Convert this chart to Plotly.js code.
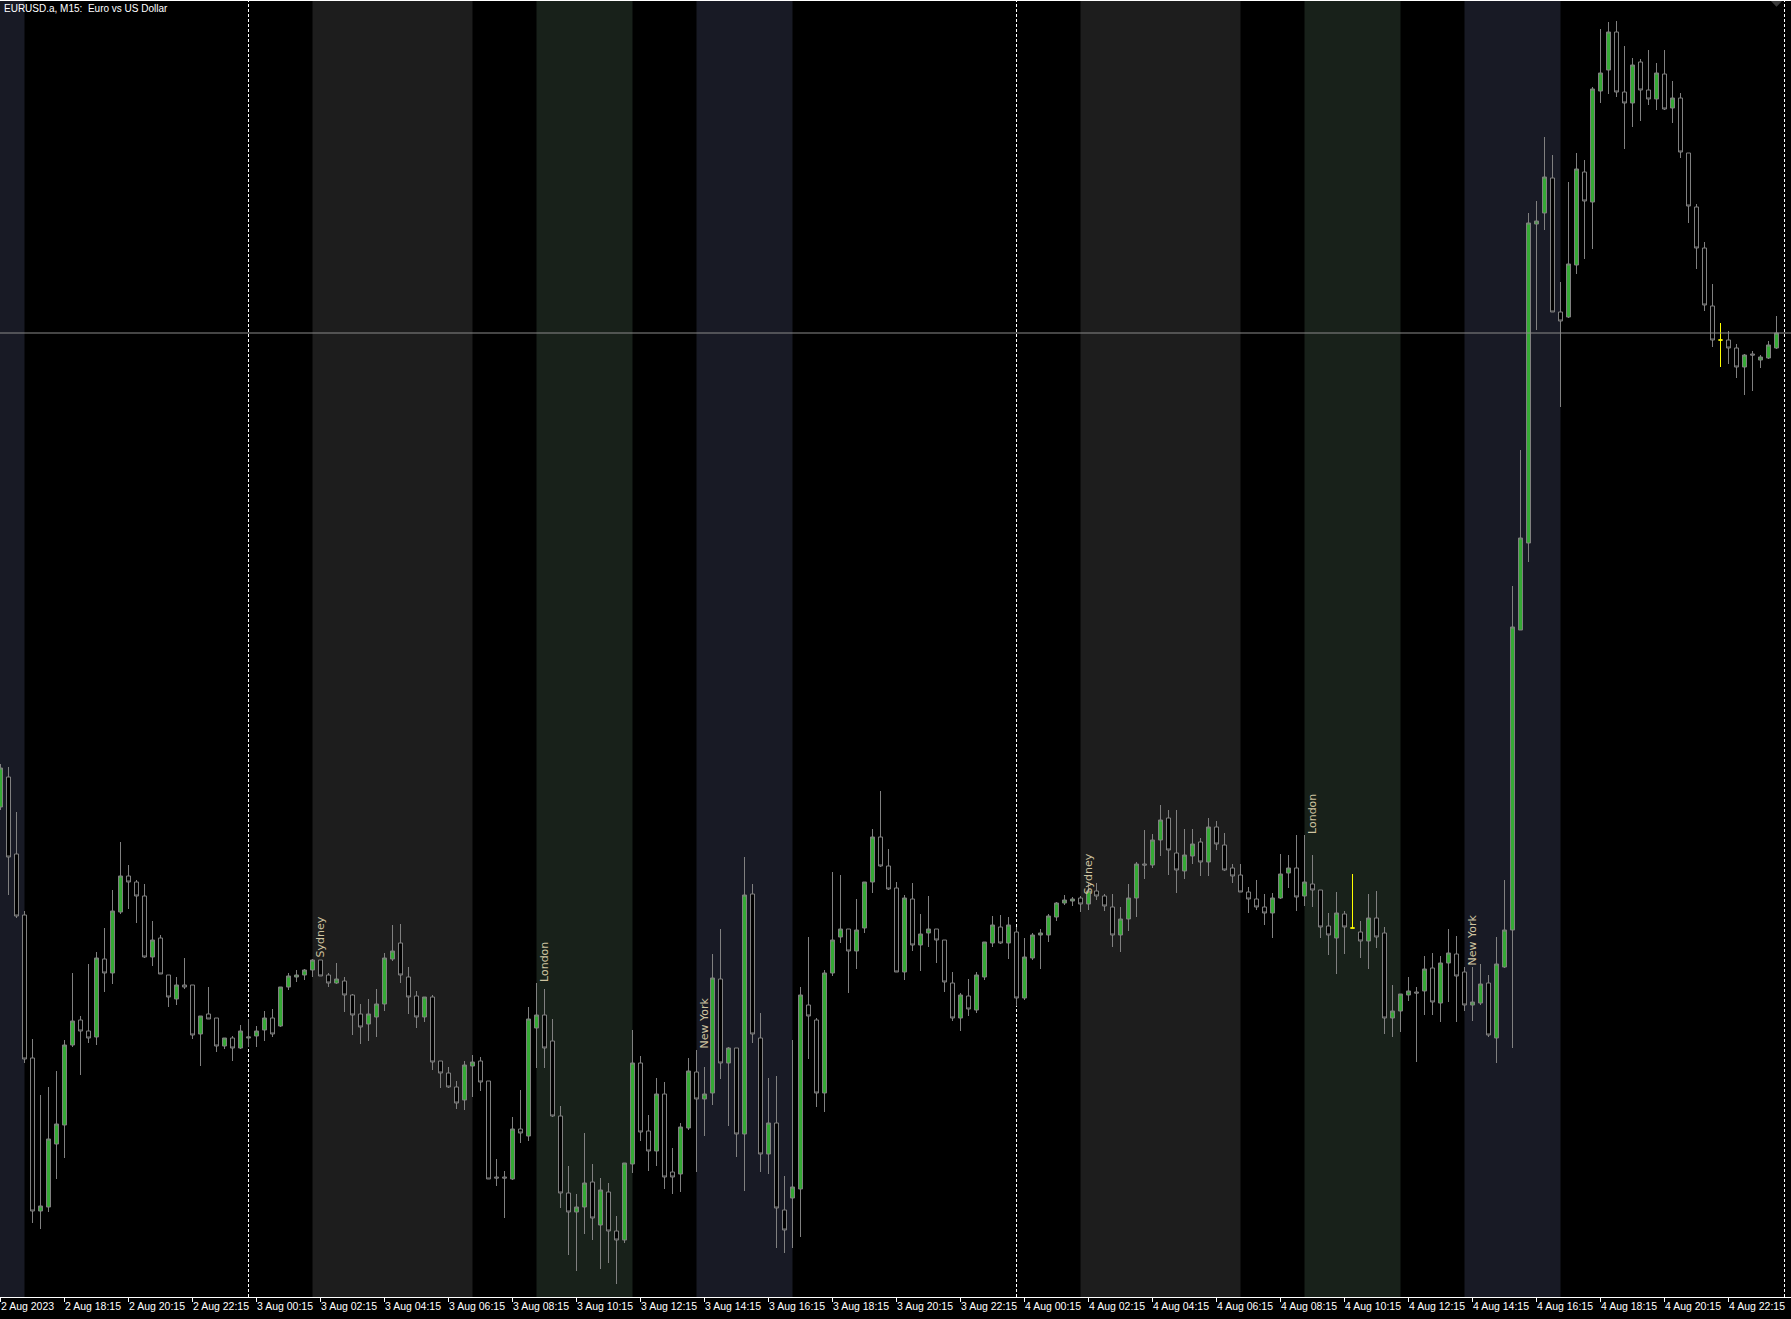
<!DOCTYPE html>
<html>
<head>
<meta charset="utf-8">
<script src="https://cdn.plot.ly/plotly-3.0.1.min.js"></script>
<style>
html,body{margin:0;padding:0;background:#000;}
#chart{width:1791px;height:1319px;}
</style>
</head>
<body>
<div id="chart"></div>
<script>
// EURUSD.a M15, bars from 2 Aug 2023 16:15 to 4 Aug 2023 23:45 (bar index 0..222)
const chartTitle = 'EURUSD.a, M15:\u00a0 Euro vs US Dollar';

const open = [
1.09606,1.09636,1.09559,1.09498,1.09355,1.09202,1.09206,1.09269,1.09288,1.09368,
1.09393,1.09382,1.09376,1.09454,1.09440,1.09501,1.09537,1.09531,1.09517,1.09456,
1.09475,1.09438,1.09414,1.09428,1.09428,1.09379,1.09399,1.09395,1.09367,1.09375,
1.09365,1.09375,1.09377,1.09383,1.09395,1.09387,1.09426,1.09436,1.09438,1.09443,
1.09453,1.09438,1.09430,1.09432,1.09418,1.09399,1.09389,1.09396,1.09409,1.09454,
1.09470,1.09436,1.09417,1.09396,1.09416,1.09352,1.09340,1.09326,1.09313,1.09347,
1.09352,1.09332,1.09236,1.09236,1.09234,1.09284,1.09277,1.09385,1.09398,1.09372,
1.09297,1.09220,1.09201,1.09206,1.09231,1.09188,1.09221,1.09182,1.09173,1.09249,
1.09350,1.09282,1.09262,1.09319,1.09241,1.09239,1.09285,1.09341,1.09314,1.09320,
1.09434,1.09350,1.09365,1.09279,1.09519,1.09375,1.09259,1.09290,1.09203,1.09215,
1.09224,1.09408,1.09393,1.09320,1.09440,1.09476,1.09484,1.09462,1.09485,1.09531,
1.09576,1.09547,1.09525,1.09441,1.09514,1.09468,1.09480,1.09484,1.09473,1.09430,
1.09395,1.09417,1.09403,1.09436,1.09470,1.09486,1.09470,1.09481,1.09415,1.09455,
1.09478,1.09478,1.09496,1.09510,1.09512,1.09515,1.09509,1.09522,1.09517,1.09506,
1.09478,1.09494,1.09515,1.09549,1.09548,1.09573,1.09595,1.09560,1.09542,1.09557,
1.09571,1.09551,1.09586,1.09568,1.09545,1.09538,1.09521,1.09514,1.09506,1.09500,
1.09515,1.09540,1.09545,1.09517,1.09529,1.09523,1.09487,1.09475,1.09499,1.09485,
1.09481,1.09472,1.09495,1.09480,1.09395,1.09402,1.09418,1.09421,1.09422,1.09445,
1.09410,1.09450,1.09459,1.09441,1.09408,1.09410,1.09430,1.09375,1.09446,1.09483,
1.09783,1.09870,1.10189,1.10200,1.10235,1.10101,1.10096,1.10148,1.10241,1.10211,
1.10322,1.10343,1.10381,1.10321,1.10310,1.10351,1.10323,1.10314,1.10339,1.10305,
1.10315,1.10260,1.10206,1.10165,1.10107,1.10073,1.10073,1.10065,1.10046,1.10059,
1.10053,1.10055,1.10065];

const high = [
1.09649,1.09646,1.09601,1.09502,1.09374,1.09318,1.09326,1.09342,1.09373,1.09440,
1.09397,1.09449,1.09461,1.09485,1.09523,1.09571,1.09548,1.09533,1.09529,1.09492,
1.09478,1.09438,1.09436,1.09455,1.09428,1.09397,1.09426,1.09395,1.09375,1.09377,
1.09388,1.09394,1.09387,1.09402,1.09404,1.09426,1.09440,1.09443,1.09444,1.09454,
1.09453,1.09440,1.09450,1.09436,1.09419,1.09409,1.09414,1.09424,1.09460,1.09488,
1.09489,1.09446,1.09422,1.09416,1.09418,1.09352,1.09346,1.09332,1.09352,1.09358,
1.09356,1.09332,1.09254,1.09242,1.09296,1.09323,1.09406,1.09430,1.09424,1.09394,
1.09307,1.09247,1.09219,1.09280,1.09249,1.09235,1.09230,1.09197,1.09250,1.09383,
1.09357,1.09298,1.09335,1.09331,1.09265,1.09290,1.09355,1.09363,1.09346,1.09459,
1.09484,1.09366,1.09365,1.09556,1.09529,1.09400,1.09335,1.09337,1.09237,1.09373,
1.09426,1.09476,1.09395,1.09443,1.09541,1.09538,1.09484,1.09514,1.09531,1.09584,
1.09622,1.09564,1.09531,1.09518,1.09530,1.09499,1.09517,1.09484,1.09473,1.09441,
1.09420,1.09434,1.09441,1.09471,1.09497,1.09498,1.09496,1.09486,1.09475,1.09480,
1.09484,1.09499,1.09511,1.09518,1.09516,1.09517,1.09530,1.09530,1.09519,1.09519,
1.09506,1.09529,1.09551,1.09583,1.09579,1.09608,1.09603,1.09603,1.09584,1.09584,
1.09575,1.09595,1.09592,1.09580,1.09549,1.09549,1.09526,1.09533,1.09519,1.09520,
1.09559,1.09558,1.09578,1.09578,1.09558,1.09523,1.09500,1.09521,1.09502,1.09539,
1.09492,1.09519,1.09522,1.09486,1.09428,1.09419,1.09436,1.09426,1.09457,1.09460,
1.09457,1.09484,1.09477,1.09446,1.09446,1.09449,1.09438,1.09476,1.09533,1.09827,
1.09963,1.10200,1.10212,1.10276,1.10258,1.10131,1.10231,1.10260,1.10253,1.10326,
1.10384,1.10391,1.10392,1.10367,1.10355,1.10354,1.10363,1.10350,1.10363,1.10332,
1.10320,1.10260,1.10209,1.10171,1.10129,1.10090,1.10082,1.10069,1.10059,1.10062,
1.10058,1.10072,1.10097];

const low = [
1.09603,1.09518,1.09495,1.09350,1.09190,1.09184,1.09201,1.09234,1.09255,1.09366,
1.09338,1.09370,1.09368,1.09421,1.09429,1.09499,1.09504,1.09490,1.09455,1.09447,
1.09439,1.09406,1.09408,1.09424,1.09374,1.09347,1.09394,1.09361,1.09364,1.09352,
1.09364,1.09366,1.09366,1.09372,1.09376,1.09386,1.09423,1.09431,1.09433,1.09436,
1.09437,1.09426,1.09429,1.09401,1.09378,1.09369,1.09372,1.09376,1.09402,1.09452,
1.09430,1.09399,1.09385,1.09391,1.09343,1.09325,1.09325,1.09304,1.09303,1.09316,
1.09322,1.09234,1.09227,1.09195,1.09233,1.09270,1.09272,1.09345,1.09345,1.09296,
1.09205,1.09158,1.09142,1.09179,1.09173,1.09144,1.09150,1.09129,1.09170,1.09240,
1.09272,1.09242,1.09247,1.09224,1.09219,1.09221,1.09283,1.09241,1.09277,1.09308,
1.09334,1.09287,1.09256,1.09222,1.09370,1.09241,1.09239,1.09165,1.09160,1.09165,
1.09176,1.09354,1.09306,1.09301,1.09437,1.09470,1.09420,1.09444,1.09480,1.09520,
1.09546,1.09523,1.09441,1.09433,1.09462,1.09442,1.09466,1.09450,1.09421,1.09392,
1.09382,1.09397,1.09400,1.09433,1.09466,1.09469,1.09454,1.09407,1.09413,1.09453,
1.09444,1.09471,1.09492,1.09508,1.09507,1.09501,1.09503,1.09513,1.09502,1.09466,
1.09461,1.09482,1.09496,1.09534,1.09545,1.09557,1.09538,1.09520,1.09534,1.09549,
1.09537,1.09537,1.09563,1.09542,1.09530,1.09521,1.09500,1.09503,1.09488,1.09475,
1.09514,1.09525,1.09502,1.09507,1.09506,1.09475,1.09458,1.09439,1.09459,1.09485,
1.09455,1.09444,1.09465,1.09379,1.09376,1.09381,1.09412,1.09351,1.09398,1.09398,
1.09391,1.09411,1.09391,1.09402,1.09392,1.09408,1.09376,1.09350,1.09445,1.09365,
1.09783,1.09851,1.10083,1.10183,1.10101,1.10006,1.10095,1.10139,1.10154,1.10164,
1.10310,1.10319,1.10316,1.10264,1.10286,1.10292,1.10308,1.10303,1.10303,1.10290,
1.10255,1.10190,1.10144,1.10102,1.10066,1.10046,1.10049,1.10035,1.10018,1.10022,
1.10045,1.10054,1.10064];

const close = [
1.09645,1.09556,1.09497,1.09354,1.09202,1.09207,1.09274,1.09289,1.09368,1.09392,
1.09382,1.09375,1.09455,1.09440,1.09502,1.09537,1.09531,1.09517,1.09456,1.09473,
1.09439,1.09416,1.09428,1.09426,1.09378,1.09397,1.09394,1.09367,1.09375,1.09365,
1.09382,1.09376,1.09382,1.09395,1.09379,1.09426,1.09437,1.09438,1.09443,1.09453,
1.09437,1.09430,1.09434,1.09418,1.09398,1.09386,1.09399,1.09409,1.09455,1.09462,
1.09438,1.09416,1.09396,1.09416,1.09351,1.09340,1.09326,1.09310,1.09348,1.09351,
1.09331,1.09234,1.09235,1.09235,1.09284,1.09280,1.09394,1.09398,1.09365,1.09297,
1.09220,1.09201,1.09206,1.09230,1.09195,1.09223,1.09182,1.09173,1.09250,1.09350,
1.09281,1.09262,1.09319,1.09236,1.09236,1.09286,1.09342,1.09314,1.09319,1.09435,
1.09350,1.09365,1.09279,1.09518,1.09379,1.09259,1.09290,1.09205,1.09183,1.09226,
1.09418,1.09397,1.09320,1.09440,1.09473,1.09484,1.09462,1.09483,1.09531,1.09576,
1.09547,1.09524,1.09441,1.09515,1.09468,1.09479,1.09484,1.09473,1.09431,1.09395,
1.09418,1.09404,1.09438,1.09471,1.09488,1.09470,1.09488,1.09415,1.09456,1.09478,
1.09480,1.09497,1.09510,1.09513,1.09514,1.09509,1.09522,1.09517,1.09507,1.09478,
1.09494,1.09515,1.09549,1.09548,1.09573,1.09593,1.09563,1.09543,1.09558,1.09569,
1.09551,1.09586,1.09569,1.09543,1.09537,1.09521,1.09514,1.09506,1.09500,1.09515,
1.09539,1.09545,1.09516,1.09531,1.09523,1.09486,1.09478,1.09500,1.09486,1.09485,
1.09472,1.09495,1.09476,1.09395,1.09402,1.09419,1.09422,1.09420,1.09444,1.09411,
1.09450,1.09460,1.09437,1.09408,1.09411,1.09429,1.09378,1.09449,1.09483,1.09786,
1.09875,1.10190,1.10192,1.10236,1.10101,1.10092,1.10149,1.10244,1.10212,1.10324,
1.10340,1.10381,1.10321,1.10310,1.10348,1.10323,1.10314,1.10340,1.10304,1.10315,
1.10261,1.10207,1.10165,1.10108,1.10073,1.10073,1.10065,1.10046,1.10058,1.10058,
1.10056,1.10068,1.10080];

// bars drawn in yellow on the chart
const highlightBars = [169, 215];

// time axis labels (one every 8 bars = 2 hours)
const tickLabels = [
'2 Aug 2023','2 Aug 18:15','2 Aug 20:15','2 Aug 22:15',
'3 Aug 00:15','3 Aug 02:15','3 Aug 04:15','3 Aug 06:15','3 Aug 08:15','3 Aug 10:15',
'3 Aug 12:15','3 Aug 14:15','3 Aug 16:15','3 Aug 18:15','3 Aug 20:15','3 Aug 22:15',
'4 Aug 00:15','4 Aug 02:15','4 Aug 04:15','4 Aug 06:15','4 Aug 08:15','4 Aug 10:15',
'4 Aug 12:15','4 Aug 14:15','4 Aug 16:15','4 Aug 18:15','4 Aug 20:15','4 Aug 22:15'];
const barsPerLabel = 8;

// trading sessions (bar index of start / end)
const sessionNames = ['', 'Sydney', 'London', 'New York', 'Sydney', 'London', 'New York'];
const sessionStart = [-1, 39, 67, 87, 135, 163, 183];
const sessionEnd   = [3, 59, 79, 99, 155, 175, 195];
const sessionColor = {'Sydney':'#1d1d1d', 'London':'#18211a', 'New York':'#181a25', '':'#181a25'};

// day separators (bar index of 00:00)
const dayBreaks = [31, 127, 223];

// ---------- build ----------
const n = open.length;
const idx = open.map((_, i) => i);
const isHi = i => highlightBars.indexOf(i) >= 0;
const mainIdx = idx.filter(i => !isHi(i));

const gray = '#808080';
const traceMain = {
  type: 'candlestick',
  x: mainIdx,
  open: mainIdx.map(i => open[i]),
  high: mainIdx.map(i => high[i]),
  low: mainIdx.map(i => low[i]),
  close: mainIdx.map(i => close[i]),
  increasing: {line: {color: gray, width: 1}, fillcolor: '#35a935'},
  decreasing: {line: {color: gray, width: 1}, fillcolor: '#000000'},
  whiskerwidth: 0,
  hoverinfo: 'x+y'
};
const traceHi = {
  type: 'candlestick',
  x: highlightBars,
  open: highlightBars.map(i => open[i]),
  high: highlightBars.map(i => high[i]),
  low: highlightBars.map(i => low[i]),
  close: highlightBars.map(i => close[i]),
  increasing: {line: {color: '#ffff00', width: 1}, fillcolor: '#ffff00'},
  decreasing: {line: {color: '#ffff00', width: 1}, fillcolor: '#ffff00'},
  whiskerwidth: 0
};

const shapes = [];
for (let s = 0; s < sessionNames.length; s++) {
  shapes.push({type: 'rect', layer: 'below', xref: 'x', yref: 'paper',
    x0: sessionStart[s], x1: sessionEnd[s], y0: 0, y1: 1,
    fillcolor: sessionColor[sessionNames[s]], line: {width: 0}});
}
dayBreaks.forEach(d => shapes.push({type: 'line', layer: 'below', xref: 'x', yref: 'paper',
  x0: d, x1: d, y0: 0, y1: 1, line: {color: '#ffffff', width: 1, dash: '3px,2px'}}));
// bid line at last close
shapes.push({type: 'line', layer: 'above', xref: 'paper', yref: 'y',
  x0: 0, x1: 1, y0: close[n - 1], y1: close[n - 1], line: {color: '#8a8a8a', width: 1}});
// chart-shift marker
shapes.push({type: 'path', layer: 'above', xref: 'x', yref: 'paper',
  path: 'M 221.3,1 L 222.7,1 L 222,0.9955 Z', fillcolor: '#3c3c3c', line: {width: 0}});

const annotations = [];
annotations.push({xref: 'paper', yref: 'paper', x: 0, y: 1, xanchor: 'left', yanchor: 'top',
  xshift: 2, yshift: 0, showarrow: false, text: chartTitle,
  font: {family: 'Liberation Sans, Arial, sans-serif', size: 10, color: '#ffffff'}});
const tickVals = tickLabels.map((_, k) => k * barsPerLabel);
tickLabels.forEach((t, k) => annotations.push({xref: 'x', yref: 'paper', x: tickVals[k], y: 0,
  xanchor: 'left', yanchor: 'top', xshift: -2, yshift: -1, showarrow: false, text: t,
  font: {family: 'Liberation Sans, Arial, sans-serif', size: 10.5, color: '#ffffff'}}));
for (let s = 0; s < sessionNames.length; s++) {
  if (!sessionNames[s]) continue;
  const b = sessionStart[s];
  annotations.push({xref: 'x', yref: 'y', x: b, y: high[b], xanchor: 'left', yanchor: 'bottom',
    textangle: -90, showarrow: false, text: sessionNames[s], borderpad: 0,
    font: {family: 'DejaVu Sans, sans-serif', size: 11, color: '#cfc4a0'}});
}

const layout = {
  width: 1791, height: 1319,
  margin: {l: 0, r: 0, t: 1, b: 22, pad: 0},
  paper_bgcolor: '#000000', plot_bgcolor: '#000000',
  showlegend: false,
  boxgap: 0.5, boxgroupgap: 0,
  xaxis: {range: [-0.0625, 223.8125], showgrid: false, zeroline: false,
    showline: true, linecolor: '#ffffff', linewidth: 1, mirror: true,
    ticks: 'outside', ticklen: 4, tickcolor: '#ffffff', tickwidth: 1,
    tickmode: 'array', tickvals: tickVals, showticklabels: false,
    rangeslider: {visible: false}, fixedrange: true},
  yaxis: {range: [1.09116, 1.10412], showgrid: false, zeroline: false,
    showticklabels: false, showline: false, ticks: '', fixedrange: true},
  shapes: shapes,
  annotations: annotations,
  font: {family: 'Liberation Sans, Arial, sans-serif', color: '#ffffff'}
};

Plotly.newPlot('chart', [traceMain, traceHi], layout, {displayModeBar: false, staticPlot: true});
</script>
</body>
</html>
